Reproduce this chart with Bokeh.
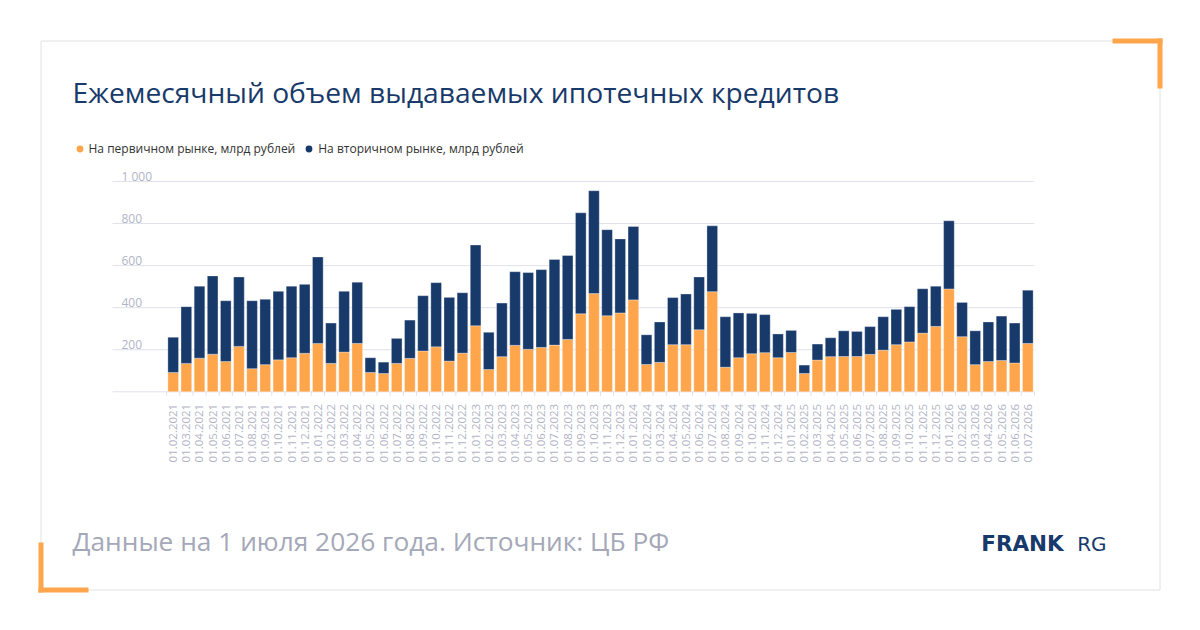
import numpy as np
from bokeh.plotting import figure
from bokeh.models import Range1d, ColumnDataSource, Legend, LegendItem
from bokeh.core.properties import value
from bokeh.embed import file_html
from bokeh.resources import INLINE

# ---------------- data ----------------
dates = [
    "01.02.2021", "01.03.2021", "01.04.2021", "01.05.2021", "01.06.2021", "01.07.2021",
    "01.08.2021", "01.09.2021", "01.10.2021", "01.11.2021", "01.12.2021",
    "01.01.2022", "01.02.2022", "01.03.2022", "01.04.2022", "01.05.2022", "01.06.2022",
    "01.07.2022", "01.08.2022", "01.09.2022", "01.10.2022", "01.11.2022", "01.12.2022",
    "01.01.2023", "01.02.2023", "01.03.2023", "01.04.2023", "01.05.2023", "01.06.2023",
    "01.07.2023", "01.08.2023", "01.09.2023", "01.10.2023", "01.11.2023", "01.12.2023",
    "01.01.2024", "01.02.2024", "01.03.2024", "01.04.2024", "01.05.2024", "01.06.2024",
    "01.07.2024", "01.08.2024", "01.09.2024", "01.10.2024", "01.11.2024", "01.12.2024",
    "01.01.2025", "01.02.2025", "01.03.2025", "01.04.2025", "01.05.2025", "01.06.2025",
    "01.07.2025", "01.08.2025", "01.09.2025", "01.10.2025", "01.11.2025", "01.12.2025",
    "01.01.2026", "01.02.2026", "01.03.2026", "01.04.2026", "01.05.2026", "01.06.2026",
    "01.07.2026",
]
primary = [92, 135, 160, 179, 144, 216, 110, 129, 152, 162, 183, 230,
           135, 189, 230, 92, 87, 135, 159, 194, 214, 146, 184, 314,
           106, 167, 221, 202, 211, 222, 249, 371, 467, 362, 375, 437,
           130, 140, 224, 224, 295, 476, 117, 162, 181, 186, 162, 187,
           87, 151, 167, 168, 168, 178, 198, 224, 237, 279, 311, 489,
           262, 129, 144, 149, 137, 230]
secondary = [167, 270, 342, 372, 289, 330, 323, 311, 326, 340, 328, 411,
             192, 289, 291, 70, 54, 119, 182, 263, 305, 303, 287, 384,
             177, 255, 350, 365, 370, 407, 399, 480, 489, 409, 352, 349,
             141, 192, 224, 241, 251, 313, 240, 213, 192, 181, 113, 105,
             40, 76, 90, 122, 119, 132, 159, 168, 168, 211, 191, 324,
             163, 161, 188, 211, 190, 253]
y_ticks = [200, 400, 600, 800, 1000]
y_tick_labels = ["200", "400", "600", "800", "1 000"]
series_names = ["На первичном рынке, млрд рублей", "На вторичном рынке, млрд рублей"]
title_text = "Ежемесячный объем выдаваемых ипотечных кредитов"
footer_text = "Данные на 1 июля 2026 года. Источник: ЦБ РФ"

# ---------------- style / layout ----------------
ORANGE = "#ffa64d"
NAVY = "#183a6b"
GRID = "#dfe1ec"
TICKTXT = "#b1b4c6"
FONT = "Open Sans"

W, H = 1184, 614
X0 = 172.7                # canvas x of first category centre
STEP = 13.148             # px per category
Y0 = 391.3                # canvas y of value 0
SCALE = 0.2103            # px per unit value

idx = np.arange(len(dates))
src = ColumnDataSource(dict(x=idx, primary=primary, secondary=secondary, date=dates))

p = figure(width=W, height=H,
           x_range=Range1d(-X0 / STEP, (W - X0) / STEP),
           y_range=Range1d(-(H - Y0) / SCALE, Y0 / SCALE),
           output_backend="svg", toolbar_location=None,
           x_axis_type=None, y_axis_type=None, min_border=0)
p.outline_line_color = None
p.background_fill_color = "white"
p.border_fill_color = "white"
p.extra_x_ranges = {"px": Range1d(0, W)}
p.extra_y_ranges = {"py": Range1d(H, 0)}

def cx(page_x):
    return (page_x - X0) / STEP

# card border
p.quad(left=[40.5], right=[1159.5], top=[40.5], bottom=[589.5],
       fill_color=None, line_color="#e2e2e2", line_width=1,
       x_range_name="px", y_range_name="py")
# orange corner brackets
p.quad(left=[1112, 1157, 38, 38], right=[1162, 1162, 43, 88],
       top=[38, 38, 542, 587], bottom=[43, 88, 592, 592],
       fill_color=ORANGE, line_color=None,
       x_range_name="px", y_range_name="py")

# gridlines (incl. baseline)
grid_vals = [0] + y_ticks
p.segment(x0=[cx(112)] * len(grid_vals), x1=[idx[-1] + 0.5] * len(grid_vals),
          y0=grid_vals, y1=grid_vals, line_color=GRID, line_width=1)

# bars
rs = p.vbar_stack(["primary", "secondary"], x="x", width=0.81, color=[ORANGE, NAVY],
                  line_color="white", line_width=0.6, line_alpha=0.5, source=src)

# x tick marks at category boundaries
bounds = list(idx - 0.5) + [idx[-1] + 0.5]
p.segment(x0=bounds, x1=bounds, y0=[Y0] * len(bounds), y1=[Y0 + 4] * len(bounds),
          line_color=GRID, line_width=1, y_range_name="py")

# x tick labels (rotated)
p.text(x="x", y=0, text="date", source=src, angle=np.pi / 2,
       text_align="right", text_baseline="middle", y_offset=12,
       text_font=value(FONT), text_font_size="11.5px", text_color=TICKTXT)

# y tick labels
p.text(x=[cx(121)] * len(y_ticks), y=y_ticks, text=y_tick_labels,
       text_align="left", text_baseline="alphabetic", y_offset=-5,
       text_font=value(FONT), text_font_size="12px", text_color=TICKTXT)

# title
p.text(x=[72], y=[91.5], text=[title_text],
       text_align="left", text_baseline="alphabetic",
       text_font=value(FONT), text_font_size="28.2px", text_color=NAVY,
       x_range_name="px", y_range_name="py")

# footer
p.text(x=[72], y=[540], text=[footer_text],
       text_align="left", text_baseline="alphabetic",
       text_font=value(FONT), text_font_size="26.3px", text_color="#a4a8b8",
       x_range_name="px", y_range_name="py")

# logo
p.text(x=[980.7], y=[543], text=["FRANK"],
       text_align="left", text_baseline="alphabetic",
       text_font=value("DejaVu Sans"), text_font_style="bold",
       text_font_size="21.5px", text_color=NAVY,
       x_range_name="px", y_range_name="py")
p.text(x=[1076.7], y=[543], text=["RG"],
       text_align="left", text_baseline="alphabetic",
       text_font=value("DejaVu Sans"), text_font_size="20px", text_color=NAVY,
       x_range_name="px", y_range_name="py")

# legend (dot markers; the points themselves lie off-canvas)
d1 = p.scatter(x=[-1000], y=[-100000], marker="circle", size=7, fill_color=ORANGE, line_color=None)
d2 = p.scatter(x=[-1000], y=[-100000], marker="circle", size=7, fill_color=NAVY, line_color=None)
legend = Legend(items=[LegendItem(label=series_names[0], renderers=[d1]),
                       LegendItem(label=series_names[1], renderers=[d2])],
                orientation="horizontal", location=(70.5, 457.5),
                glyph_width=17, glyph_height=17, label_standoff=1, spacing=5,
                padding=0, margin=0, border_line_color=None, background_fill_alpha=0,
                label_text_font=FONT, label_text_font_size="12px",
                label_text_color="#333333", label_height=17)
p.add_layout(legend)

open("out.html", "w").write(file_html(p, INLINE))
